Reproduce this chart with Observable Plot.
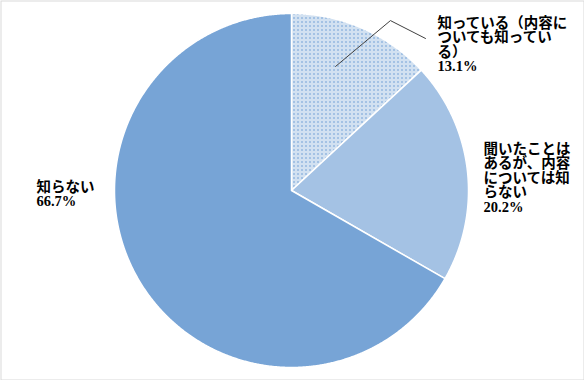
<!DOCTYPE html>
<html>
<head>
<meta charset="utf-8">
<script src="https://cdn.jsdelivr.net/npm/d3@7"></script>
<script src="https://cdn.jsdelivr.net/npm/@observablehq/plot@0.6"></script>
<style>
  html, body { margin: 0; padding: 0; background: white; }
  #chart svg { display: block; }
</style>
</head>
<body>
<div id="chart"></div>
<script>
// ---- data ----
const categories = [
  "知っている（内容についても知っている）",
  "聞いたことはあるが、内容については知らない",
  "知らない"
];
const values = [13.1, 20.2, 66.7];
// label text as wrapped in the reference
const labelLines = [
  ["知っている（内容に", "ついても知ってい", "る）"],
  ["聞いたことは", "あるが、内容", "については知", "らない"],
  ["知らない"]
];
// label anchor (top-left), in pie-radius units relative to the centre
const labelX = [0.825, 1.085, -1.441];
const labelY = [0.978, 0.265, 0.050];
// leader line for the first label, in pie-radius units
const leaderX = [0.249, 0.559, 0.757];
const leaderY = [0.701, 0.960, 0.859];
const patterns = ["url(#pSparse)", "url(#pChecker)", "url(#pDense)"];

const BLUE = "#4a85c8";

// ---- build slice outlines from the values ----
const total = d3.sum(values);
const slices = [];
let acc = 0;
values.forEach((v, i) => {
  const a0 = acc / total * 2 * Math.PI;
  acc += v;
  const a1 = acc / total * 2 * Math.PI;
  const pts = [{cat: categories[i], x: 0, y: 0}];
  const n = Math.max(2, Math.ceil((a1 - a0) / 0.005));
  for (let k = 0; k <= n; k++) {
    const a = a0 + (a1 - a0) * k / n;
    pts.push({cat: categories[i], x: Math.sin(a), y: Math.cos(a)});
  }
  slices.push(pts);
});

const labels = categories.map((c, i) => ({
  x: labelX[i], y: labelY[i],
  text: labelLines[i].join("\n") + "\n" + values[i].toFixed(1) + "%"
}));
const leader = leaderX.map((x, i) => ({x, y: leaderY[i]}));

// ---- pattern defs as a custom mark ----
function defsMark() {
  const ns = "http://www.w3.org/2000/svg";
  const defs = document.createElementNS(ns, "defs");
  function pattern(id, w, h, bg, fg, pixels) {
    const p = document.createElementNS(ns, "pattern");
    p.setAttribute("id", id);
    p.setAttribute("width", w);
    p.setAttribute("height", h);
    p.setAttribute("patternUnits", "userSpaceOnUse");
    const r = document.createElementNS(ns, "rect");
    r.setAttribute("width", w); r.setAttribute("height", h);
    r.setAttribute("fill", bg);
    p.appendChild(r);
    for (const [px, py] of pixels) {
      const q = document.createElementNS(ns, "rect");
      q.setAttribute("x", px); q.setAttribute("y", py);
      q.setAttribute("width", 1); q.setAttribute("height", 1);
      q.setAttribute("fill", fg);
      q.setAttribute("shape-rendering", "crispEdges");
      p.appendChild(q);
    }
    defs.appendChild(p);
  }
  pattern("pSparse", 4, 4, "white", BLUE, [[1,0],[0,1],[2,1],[1,2],[3,3]]);
  pattern("pChecker", 2, 2, "white", BLUE, [[0,0],[1,1]]);
  pattern("pDense", 4, 2, BLUE, "white", [[0,0],[2,1]]);
  return defs;
}

const chart = Plot.plot({
  width: 584,
  height: 380,
  margin: 0,
  style: {background: "white", overflow: "visible"},
  x: {domain: [-1, 1], range: [114, 468], axis: null},
  y: {domain: [-1, 1], range: [367, 13], axis: null},
  marks: [
    defsMark,
    Plot.frame({stroke: "#d9d9d9", inset: 0.5}),
    ...slices.map((pts, i) => Plot.line(pts, {
      x: "x", y: "y", curve: "linear-closed",
      fill: patterns[i], stroke: "white", strokeWidth: 1.5, strokeLinejoin: "round"
    })),
    Plot.line(leader, {x: "x", y: "y", stroke: "#404040", strokeWidth: 1}),
    Plot.text(labels, {
      x: "x", y: "y", text: "text",
      textAnchor: "start", lineAnchor: "top", lineHeight: 1.0,
      fontSize: 14.5, fontWeight: "bold", fill: "black",
      fontFamily: "'Liberation Serif', 'Noto Sans CJK JP', sans-serif"
    })
  ]
});
document.getElementById("chart").appendChild(chart);
</script>
</body>
</html>
